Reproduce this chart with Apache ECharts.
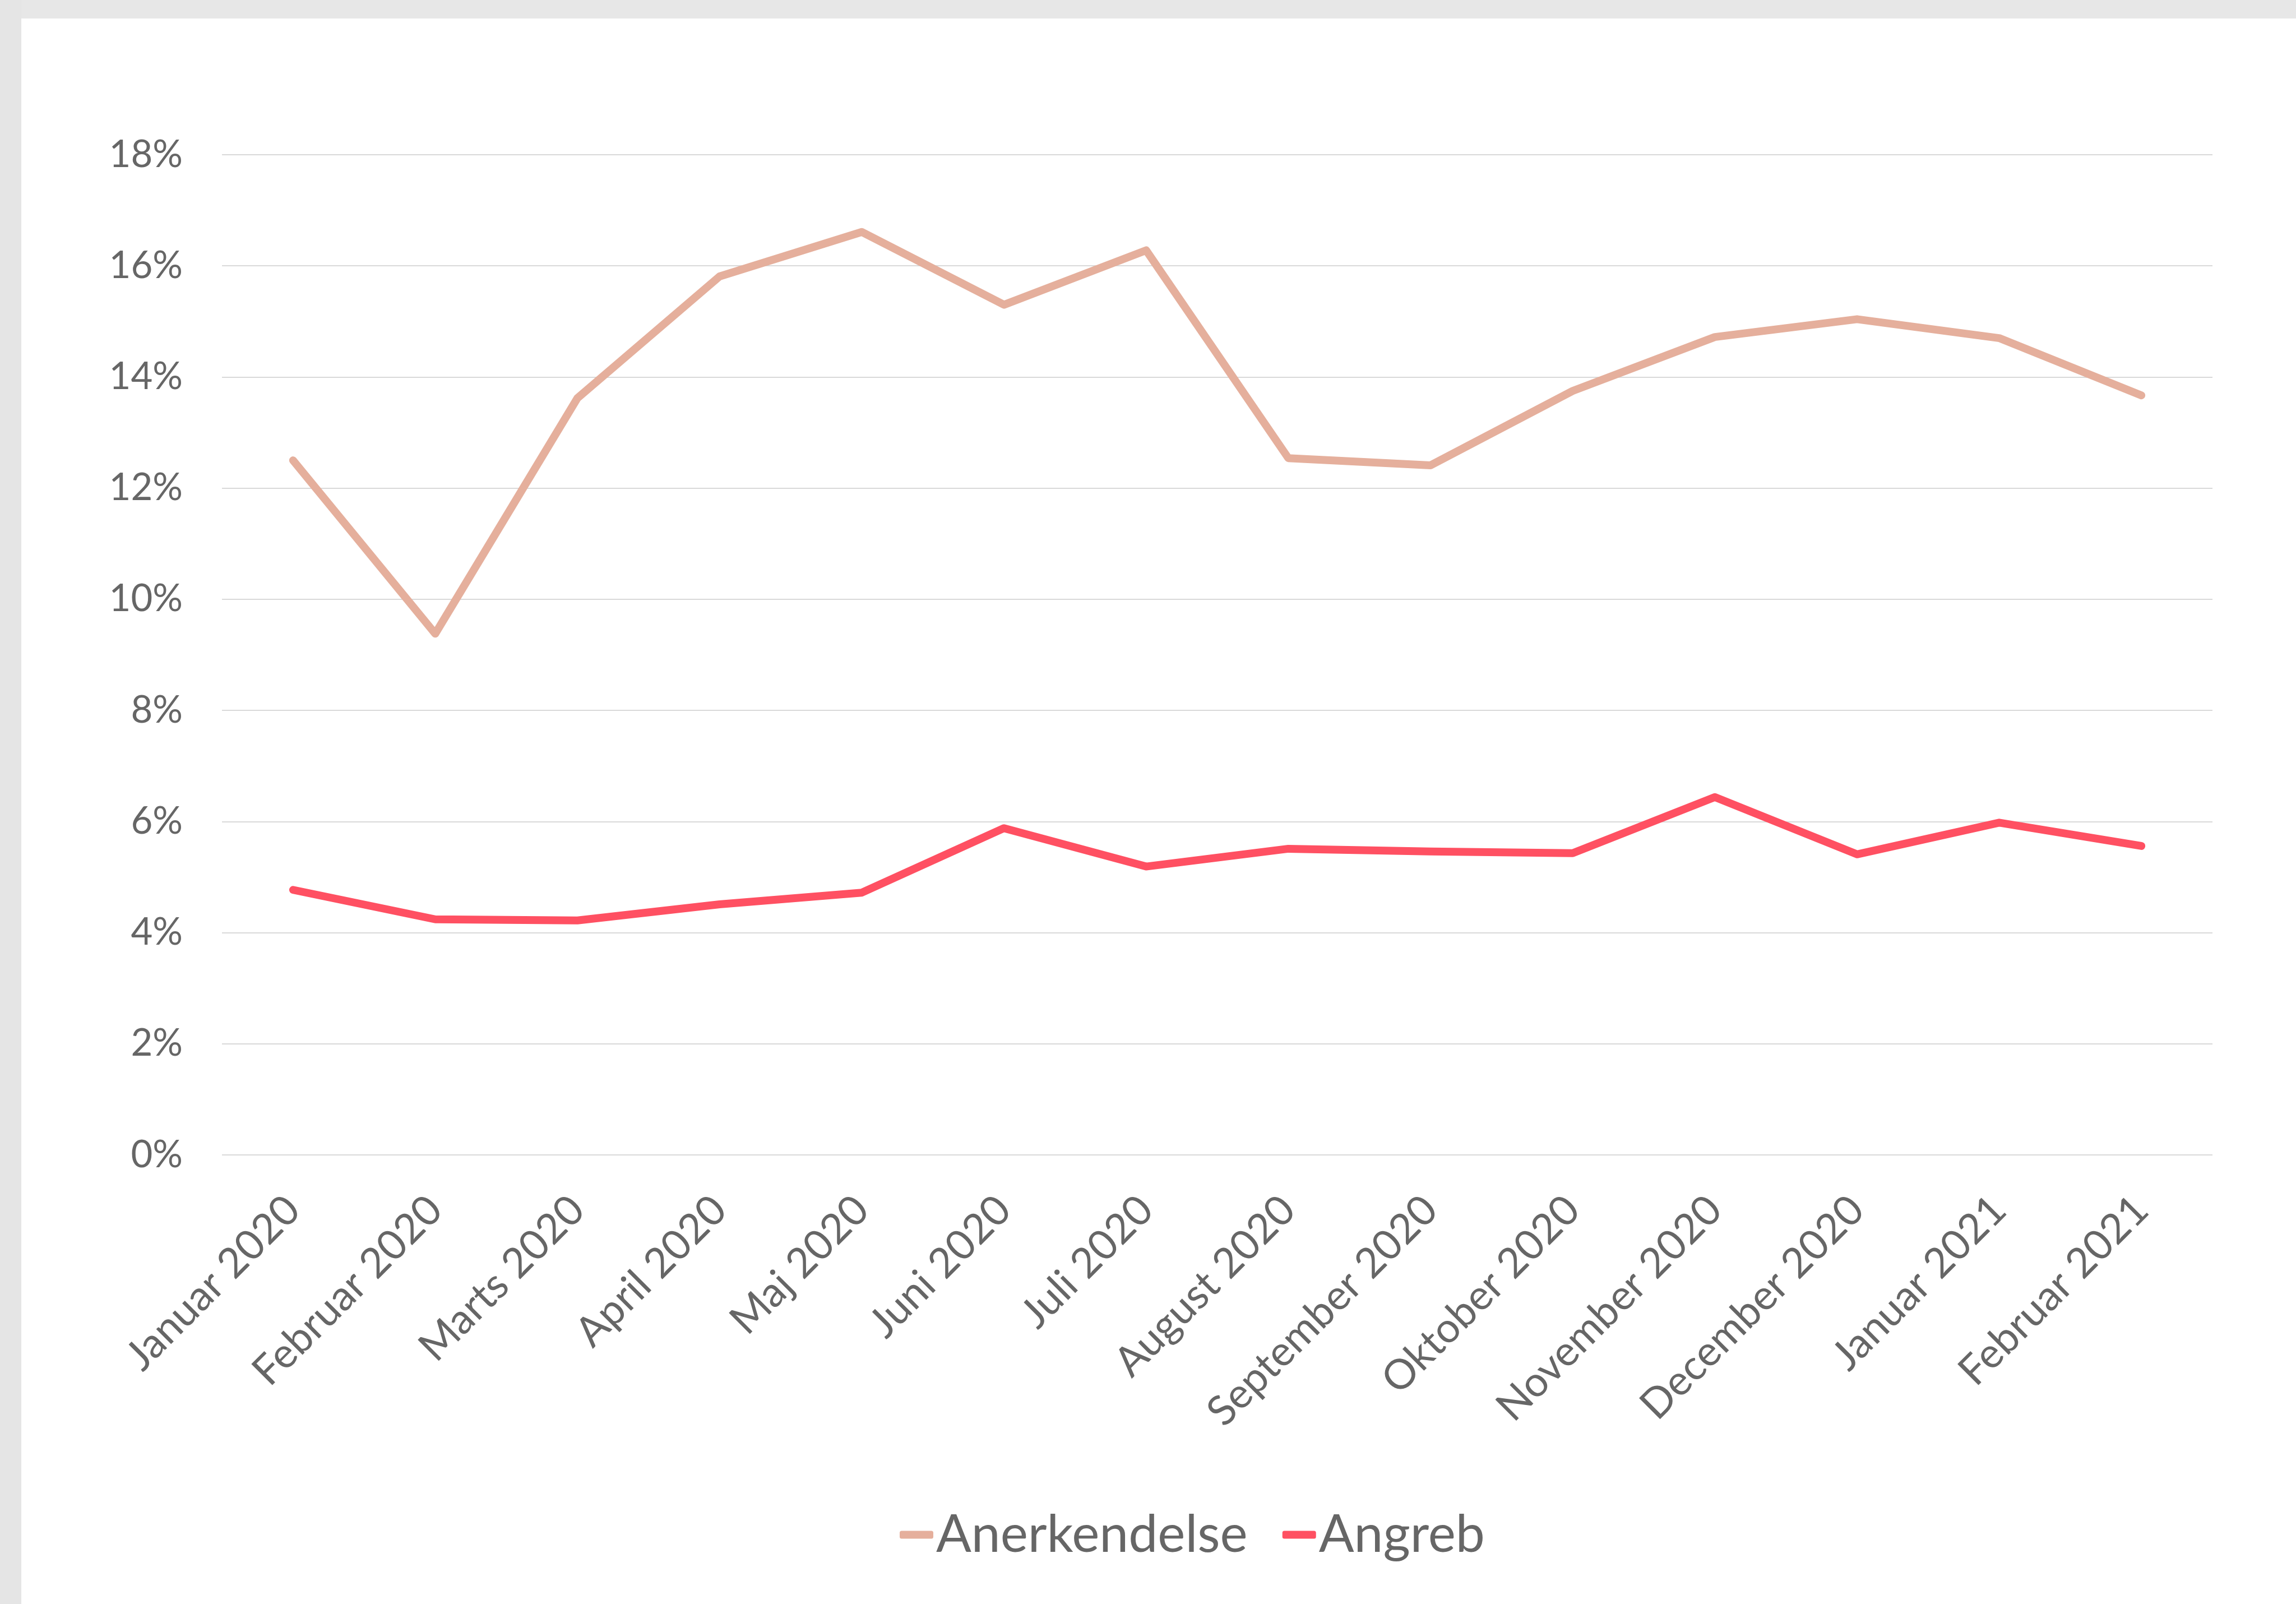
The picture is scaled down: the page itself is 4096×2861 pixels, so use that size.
<!DOCTYPE html>
<html>
<head>
<meta charset="utf-8">
<script src="https://cdn.jsdelivr.net/npm/echarts@6/dist/echarts.min.js"></script>
<style>
    html, body { margin: 0; padding: 0; background: #fff; }
    #chart { width: 4096px; height: 2861px; }
</style>
</head>
<body>
<div id="chart"></div>
<script>
// 数据
const months = [
    "Januar 2020", "Februar 2020", "Marts 2020", "April 2020", "Maj 2020",
    "Juni 2020", "Juli 2020", "August 2020", "September 2020", "Oktober 2020",
    "November 2020", "December 2020", "Januar 2021", "Februar 2021"
];
const anerkendelse = [12.5, 9.38, 13.62, 15.81, 16.61, 15.30, 16.28, 12.54, 12.41, 13.75, 14.72, 15.04, 14.70, 13.67];
const angreb = [4.77, 4.24, 4.22, 4.51, 4.72, 5.88, 5.19, 5.51, 5.46, 5.43, 6.44, 5.41, 5.98, 5.56];

const FONT = "Lato, 'Open Sans', sans-serif";
const TEXT_COLOR = "#666666";

const chart = echarts.init(document.getElementById("chart"));

chart.setOption({
    backgroundColor: "#ffffff",
    animation: false,
    // 灰色边框（上、左）
    graphic: [
        { type: "rect", left: 0, top: 0, shape: { width: 4096, height: 33 }, style: { fill: "#e7e7e7" }, silent: true },
        { type: "rect", left: 0, top: 0, shape: { width: 38, height: 2861 }, style: { fill: "#e5e5e5" }, silent: true },
    ],
    grid: { left: 396, right: 149, top: 276, bottom: 801, containLabel: false },
    legend: {
        left: 1600,
        top: 2686,
        itemWidth: 60,
        itemHeight: 14,
        itemGap: 62,
        icon: "roundRect",
        textStyle: { fontFamily: FONT, fontSize: 93, color: TEXT_COLOR },
        data: ["Anerkendelse", "Angreb"],
    },
    xAxis: {
        type: "category",
        data: months,
        boundaryGap: true,
        axisLine: { show: false },
        axisTick: { show: false },
        axisLabel: {
            rotate: 45,
            interval: 0,
            margin: 86,
            fontFamily: FONT,
            fontSize: 74,
            color: TEXT_COLOR,
        },
    },
    yAxis: {
        type: "value",
        min: 0,
        max: 18,
        interval: 2,
        axisLine: { show: false },
        axisTick: { show: false },
        axisLabel: {
            formatter: "{value}%",
            margin: 70,
            fontFamily: FONT,
            fontSize: 67,
            color: TEXT_COLOR,
        },
        splitLine: { lineStyle: { color: "#d9d9d9", width: 2 } },
    },
    series: [
        {
            name: "Anerkendelse",
            type: "line",
            data: anerkendelse,
            symbol: "none",
            color: "#E5AF9C",
            lineStyle: { width: 14, cap: "round", join: "round" },
        },
        {
            name: "Angreb",
            type: "line",
            data: angreb,
            symbol: "none",
            color: "#FF5062",
            lineStyle: { width: 14, cap: "round", join: "round" },
        },
    ],
});
</script>
</body>
</html>
